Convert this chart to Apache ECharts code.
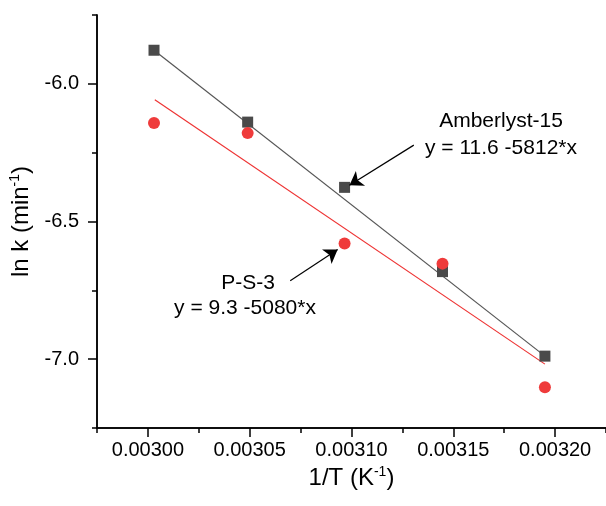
<!DOCTYPE html>
<html>
<head>
<meta charset="utf-8">
<script src="https://cdn.jsdelivr.net/npm/echarts@6/dist/echarts.min.js"></script>
<style>html,body{margin:0;padding:0;background:#fff}#c{width:606px;height:506px}</style>
</head>
<body>
<div id="c"></div>
<script>
const xValues = [0.003003, 0.003049, 0.0030966, 0.0031447, 0.003195];
const amberlyst = [-5.878, -6.139, -6.376, -6.682, -6.989];
const ps3 = [-6.142, -6.179, -6.580, -6.653, -7.102];
const amberFitX = [0.003003, 0.003195];
const amberFitY = [-5.878, -6.989];
const psFitX = [0.0030034, 0.003195];
const psFitY = [-6.058, -7.018];
const xMajorTicks = [0.0030, 0.00305, 0.0031, 0.00315, 0.0032];
const xMinorTicks = [0.002975, 0.003025, 0.003075, 0.003125, 0.003175, 0.003225];
const yMajorTicks = [-7.0, -6.5, -6.0];
const yMinorTicks = [-7.25, -6.75, -6.25, -5.75];
const amberArrow = [[0.0031306, -6.2226], [0.003099, -6.3686]];
const psArrow = [[0.0030699, -6.715], [0.0030932, -6.602]];

const FONT = 'Liberation Sans, Arial, sans-serif';
const pts = (xs, ys) => xs.map((x, i) => [x, ys[i]]);

const chart = echarts.init(document.getElementById('c'));
const axisCommonX = {
  type: 'value', position: 'bottom', min: 0.002975, max: 0.003225, interval: 0.000025,
  axisLine: {show: true, onZero: false, lineStyle: {color: '#000', width: 1.5}},
  splitLine: {show: false}
};
const axisCommonY = {
  type: 'value', position: 'left', min: -7.25, max: -5.75, interval: 0.25,
  axisLine: {show: true, onZero: false, lineStyle: {color: '#000', width: 1.5}},
  splitLine: {show: false}
};
const nameRich = {a: {fontFamily: FONT, fontSize: 24, color: '#000'}, s: {fontFamily: FONT, fontSize: 14, color: '#000', verticalAlign: 'top', padding: [0,0,12,0]}};
chart.setOption({
  animation: false,
  backgroundColor: '#fff',
  grid: {left: 97, top: 15, width: 515, height: 413, containLabel: false},
  xAxis: [
    Object.assign({}, axisCommonX, {
      name: '{a|1/T (K}{s|-1}{a|)}',
      nameLocation: 'middle', nameGap: 33,
      nameTextStyle: {rich: nameRich},
      axisTick: {show: true, length: 9, lineStyle: {color: '#000', width: 1.5}, customValues: xMajorTicks},
      axisLabel: {show: true, customValues: xMajorTicks, margin: 12, fontFamily: FONT, fontSize: 20, color: '#000', formatter: v => v.toFixed(5)}
    }),
    Object.assign({}, axisCommonX, {
      axisTick: {show: true, length: 5, lineStyle: {color: '#000', width: 1.5}, customValues: xMinorTicks},
      axisLabel: {show: false}
    })
  ],
  yAxis: [
    Object.assign({}, axisCommonY, {
      name: '{a|ln k (min}{s|-1}{a|)}',
      nameLocation: 'middle', nameGap: 55, nameRotate: 90,
      nameTextStyle: {rich: nameRich},
      axisTick: {show: true, length: 9, lineStyle: {color: '#000', width: 1.5}, customValues: yMajorTicks},
      axisLabel: {show: true, customValues: yMajorTicks, margin: 18, fontFamily: FONT, fontSize: 20, color: '#000', formatter: v => v.toFixed(1)}
    }),
    Object.assign({}, axisCommonY, {
      axisTick: {show: true, length: 5, lineStyle: {color: '#000', width: 1.5}, customValues: yMinorTicks},
      axisLabel: {show: false}
    })
  ],
  series: [
    {type: 'line', data: pts(amberFitX, amberFitY), symbol: 'none', lineStyle: {color: '#555', width: 1.2}, z: 2},
    {type: 'line', data: pts(psFitX, psFitY), symbol: 'none', lineStyle: {color: '#ee3333', width: 1.2}, z: 2},
    {type: 'scatter', data: pts(xValues, amberlyst), symbol: 'rect', symbolSize: 11, itemStyle: {color: '#4a4a4a', opacity: 1}, z: 3,
     markLine: {silent: true, symbol: ['none', 'arrow'], symbolSize: 13, label: {show: false},
       lineStyle: {color: '#000', width: 1.2, type: 'solid'},
       data: [[{coord: amberArrow[0]}, {coord: amberArrow[1]}], [{coord: psArrow[0]}, {coord: psArrow[1]}]]}},
    {type: 'scatter', data: pts(xValues, ps3), symbol: 'circle', symbolSize: 12, itemStyle: {color: '#ef3b3b', opacity: 1}, z: 4}
  ],
  graphic: [
    {type: 'text', x: 501, y: 121, style: {text: 'Amberlyst-15', font: '21px ' + FONT, fill: '#000', align: 'center', verticalAlign: 'middle'}},
    {type: 'text', x: 501, y: 148, style: {text: 'y = 11.6 -5812*x', font: '21px ' + FONT, fill: '#000', align: 'center', verticalAlign: 'middle'}},
    {type: 'text', x: 248, y: 283, style: {text: 'P-S-3', font: '21px ' + FONT, fill: '#000', align: 'center', verticalAlign: 'middle'}},
    {type: 'text', x: 245, y: 308, style: {text: 'y = 9.3 -5080*x', font: '21px ' + FONT, fill: '#000', align: 'center', verticalAlign: 'middle'}}
  ]
});
</script>
</body>
</html>
